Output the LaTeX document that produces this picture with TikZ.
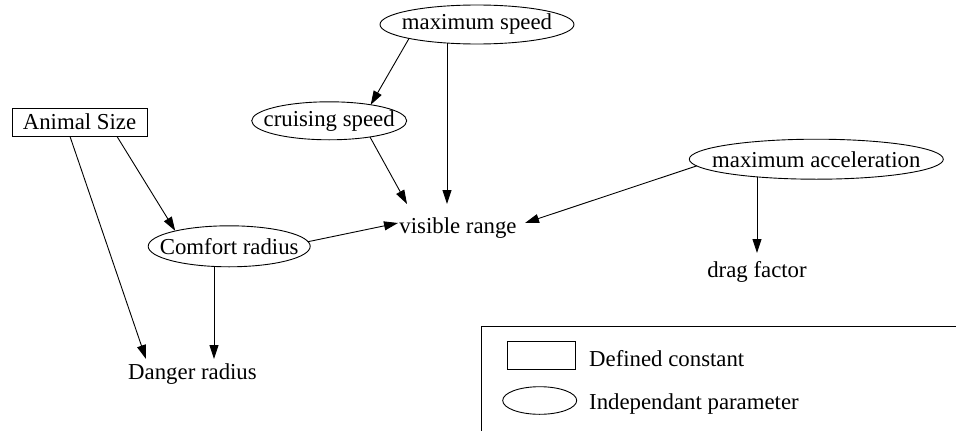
\documentclass[tikz,border=0pt]{standalone}
\usepackage{fontspec}
\setmainfont{Liberation Serif}
\usetikzlibrary{shapes.geometric,arrows.meta,calc}
\newcommand{\zb}[1]{\makebox[0pt]{#1}}
\tikzset{
  par/.style={draw, ellipse, inner sep=0pt, line width=0.9pt},
  cst/.style={draw, rectangle, inner sep=0pt, line width=0.9pt},
  txt/.style={inner sep=0pt, anchor=base},
  edge/.style={line width=0.9pt, -{Triangle[length=14pt,width=9pt]}},
}
\begin{document}
\begin{tikzpicture}[x=1pt,y=-1pt,font=\fontsize{22.8}{27}\selectfont]
\useasboundingbox (0,0) rectangle (956,431);
% nodes
\node[cst, minimum width=135, minimum height=28] (as) at (79.5,122) {\zb{Animal Size}};
\node[par, minimum width=194, minimum height=39] (ms) at (477,24.5) {\zb{maximum speed}};
\node[par, minimum width=155, minimum height=38] (cs) at (329.2,120.8) {\zb{cruising speed}};
\node[par, minimum width=162, minimum height=41] (cr) at (229.2,246.3) {\zb{Comfort radius}};
\node[par, minimum width=254, minimum height=40] (ma) at (816.3,159.2) {\zb{maximum acceleration}};
\node[txt] (vr) at (458,233) {visible range};
\node[txt] (df) at (757,277) {drag factor};
\node[txt] (dr) at (192.5,379) {Danger radius};
% edges
\draw[edge] ($(as.south)+(-9.5,0)$) -- ($(dr.base)+(-46.5,-20)$);
\draw[edge] ($(as.south)+(37.5,0)$) -- ($(cr.center)+(-54,-15.5)$);
\draw[edge] ($(cr.center)+(-15.2,20.2)$) -- ($(dr.base)+(21.5,-20)$);
\draw[edge] ($(cr.center)+(78.8,-4.6)$) -- ($(vr.base)+(-60,-10)$);
\draw[edge] ($(ms.center)+(-68,14)$) -- ($(cs.center)+(41.5,-16)$);
\draw[edge] ($(ms.center)+(-30,18.5)$) -- ($(vr.base)+(-11,-29)$);
\draw[edge] ($(cs.center)+(40.8,16.2)$) -- ($(vr.base)+(-51,-29)$);
\draw[edge] ($(ma.center)+(-119.6,6.7)$) -- ($(vr.base)+(67,-10)$);
\draw[edge] ($(ma.center)+(-59.3,17.7)$) -- ($(df.base)+(0,-24)$);
% legend
\draw[line width=0.9pt] (481,432) |- (957,326);
\node[cst, minimum width=68, minimum height=27.6] (lgr) at (541,355.5) {};
\node[par, minimum width=74, minimum height=27.6] (lge) at (539.7,400.5) {};
\node[txt, anchor=base west] (lgt1) at (589,366) {Defined constant};
\node[txt, anchor=base west] (lgt2) at (589,409.3) {Independant parameter};
\end{tikzpicture}
\end{document}
